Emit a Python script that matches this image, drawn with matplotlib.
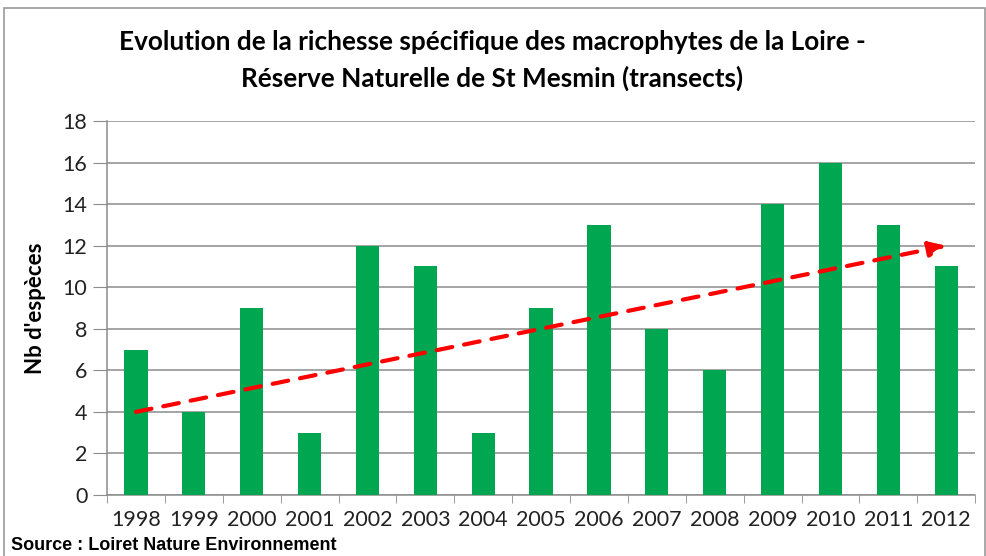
import numpy as np
import matplotlib.pyplot as plt
from matplotlib.patches import Rectangle

# data
years = ["1998", "1999", "2000", "2001", "2002", "2003", "2004", "2005",
         "2006", "2007", "2008", "2009", "2010", "2011", "2012"]
nb_especes = [7, 4, 9, 3, 12, 11, 3, 9, 13, 8, 6, 14, 16, 13, 11]
trend_start = 4
trend_end = 12

font = ["Lato", "DejaVu Sans"]
plt.rcParams["font.family"] = font

fig = plt.figure(figsize=(9.87, 5.56), dpi=100)
ax = fig.add_axes([0.1084, 0.1097, 0.8796, 0.6727])

x = np.arange(len(years))
ax.bar(x, nb_especes, width=0.4, color="#00A650", zorder=3)

# trend arrow
ax.annotate("", xy=(x[-1], trend_end), xytext=(x[0], trend_start),
            arrowprops=dict(arrowstyle="-|>,head_length=1.0,head_width=0.45",
                            color="#FF0000", lw=3, ls=(0, (3.8, 2.9)),
                            shrinkA=0, shrinkB=0),
            zorder=4)

ax.set_xlim(-0.5, len(years) - 0.5)
ax.set_ylim(0, 18)
ax.set_yticks(np.arange(0, 19, 2))
ax.yaxis.grid(True, color="#8c8c8c", lw=1.1, zorder=0)
ax.tick_params(axis="y", length=10, color="#8c8c8c", labelsize=15.5,
               labelcolor="#222222", pad=4)

ax.set_xticks(x)
ax.set_xticklabels(years)
ax.set_xticks(np.arange(-0.5, len(years), 1), minor=True)
ax.tick_params(axis="x", which="major", length=0, labelsize=15.5,
               labelcolor="#222222", pad=11)
ax.tick_params(axis="x", which="minor", length=6, color="#8c8c8c")

for s in ["top", "right"]:
    ax.spines[s].set_visible(False)
for s in ["left", "bottom"]:
    ax.spines[s].set_color("#8c8c8c")
    ax.spines[s].set_linewidth(1.1)

ax.set_ylabel("Nb d'espèces", fontsize=16, fontweight="bold", labelpad=12)

fig.text(0.499, 0.925, "Evolution de la richesse spécifique des macrophytes de la Loire -",
         ha="center", va="center", fontsize=18.8, fontweight="bold")
fig.text(0.499, 0.86, "Réserve Naturelle de St Mesmin (transects)",
         ha="center", va="center", fontsize=18.8, fontweight="bold")

fig.text(0.011, 0.018, "Source : Loiret Nature Environnement", ha="left",
         va="center", fontsize=13, fontweight="bold",
         family=["Liberation Sans", "DejaVu Sans"])

# chart frame
fig.patches.append(Rectangle((0.004, -0.01), 0.994, 0.996, transform=fig.transFigure,
                             fill=False, ec="#9a9a9a", lw=1.2))

fig.savefig("out.png", dpi=100)
